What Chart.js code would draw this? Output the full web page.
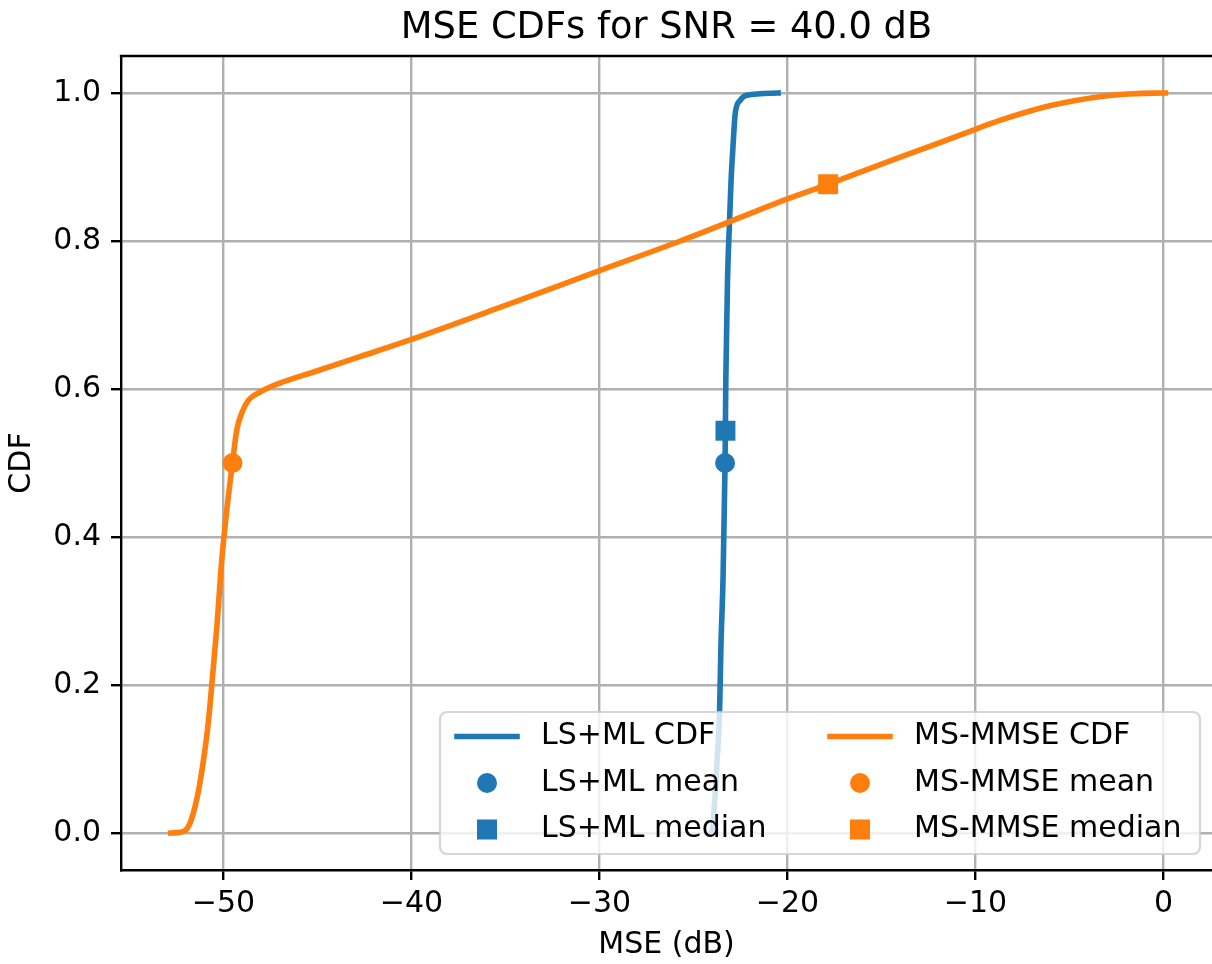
<!DOCTYPE html>
<html lang="en">
<head>
    <meta charset="UTF-8">
    <title>MSE CDFs for SNR = 40.0 dB</title>
    <script src="https://cdn.jsdelivr.net/npm/chart.js"></script>
    <style>
        * {
            box-sizing: border-box;
            margin: 0;
            padding: 0;
        }

        body {
            background-color: white;
        }

        canvas {
            display: block;
        }
    </style>
</head>
<body>

    <canvas id="grafico" width="1212" height="964"></canvas>

    <script>
        // LS+ML: CDF do MSE (dB)
        let lsmlX = [-24.1, -24.0, -23.75, -23.61, -23.54, -23.43, -23.32, -23.28, -23.25, -23.19, -23.08, -23.0, -22.9, -22.78, -22.52, -22.16, -20.5];
        let lsmlY = [0.0, 0.004, 0.095, 0.167, 0.252, 0.342, 0.5, 0.612, 0.657, 0.747, 0.828, 0.882, 0.927, 0.972, 0.990, 0.997, 1.0];
        let lsmlMean = [-23.32, 0.5];
        let lsmlMedian = [-23.30, 0.5436];

        // MS-MMSE: CDF do MSE (dB)
        let msX = [-52.8, -52.3, -52.0, -51.8, -51.6, -51.35, -51.06, -50.83, -50.62, -50.35, -50.09, -49.82, -49.52, -49.29, -49.02, -48.67, -48.05, -47.0, -45.2, -42.7, -40.0, -35.0, -30.0, -25.7, -22.0, -20.0, -17.8, -15.0, -12.0, -10.0, -8.7, -6.0, -3.4, -1.6, 0.1];
        let msY = [0.0, 0.001, 0.004, 0.012, 0.027, 0.054, 0.099, 0.144, 0.2, 0.279, 0.369, 0.437, 0.5, 0.545, 0.568, 0.585, 0.596, 0.608, 0.623, 0.644, 0.667, 0.713, 0.76, 0.8, 0.837, 0.857, 0.877, 0.904, 0.932, 0.951, 0.963, 0.983, 0.995, 0.999, 1.0];
        let msMean = [-49.52, 0.5];
        let msMedian = [-17.84, 0.8767];

        let xTicks = [-50, -40, -30, -20, -10, 0];
        let yTicks = [0.0, 0.2, 0.4, 0.6, 0.8, 1.0];

        let azul = '#1f77b4';
        let laranja = '#ff7f0e';
        let fonte = '"DejaVu Sans", sans-serif';

        function pontos(xs, ys) {
            return xs.map((x, i) => ({ x: x, y: ys[i] }));
        }

        function menos(v) {
            return String(v).replace('-', '\u2212');
        }

        let curva = (label, xs, ys, cor, ordem) => ({
            label: label,
            data: pontos(xs, ys),
            showLine: true,
            borderColor: cor,
            backgroundColor: cor,
            borderWidth: 5.6,
            borderCapStyle: 'square',
            borderJoinStyle: 'round',
            cubicInterpolationMode: 'monotone',
            pointRadius: 0,
            order: ordem
        });

        let marca = (label, p, cor, estilo, raio, ordem) => ({
            label: label,
            data: [{ x: p[0], y: p[1] }],
            pointStyle: estilo,
            pointRadius: raio,
            pointBackgroundColor: cor,
            pointBorderWidth: 0,
            order: ordem
        });

        // moldura de cima + legenda dentro do gráfico
        let moldura = {
            id: 'moldura',
            afterDraw(chart) {
                let c = chart.ctx;
                let a = chart.chartArea;
                c.save();
                c.strokeStyle = '#000';
                c.lineWidth = 2.4;
                c.beginPath();
                c.moveTo(a.left - 1.2, a.top);
                c.lineTo(a.right, a.top);
                c.stroke();

                // caixa da legenda
                c.beginPath();
                c.roundRect(440, 712, 760, 142, 7);
                c.fillStyle = 'rgba(255, 255, 255, 0.8)';
                c.fill();
                c.strokeStyle = 'rgba(204, 204, 204, 0.8)';
                c.lineWidth = 2.2;
                c.stroke();

                let linhas = [736.5, 783, 829.5];
                let colunas = [
                    { x: 457, cor: azul, nomes: ['LS+ML CDF', 'LS+ML mean', 'LS+ML median'] },
                    { x: 830, cor: laranja, nomes: ['MS-MMSE CDF', 'MS-MMSE mean', 'MS-MMSE median'] }
                ];
                c.font = '30px ' + fonte;
                c.textBaseline = 'middle';
                c.textAlign = 'left';
                colunas.forEach(col => {
                    let meio = col.x + 30;
                    c.strokeStyle = col.cor;
                    c.fillStyle = col.cor;
                    c.lineWidth = 5.6;
                    c.lineCap = 'square';
                    c.beginPath();
                    c.moveTo(col.x, linhas[0]);
                    c.lineTo(col.x + 60, linhas[0]);
                    c.stroke();
                    c.beginPath();
                    c.arc(meio, linhas[1], 10, 0, Math.PI * 2);
                    c.fill();
                    c.fillRect(meio - 10, linhas[2] - 10, 20, 20);
                    c.fillStyle = '#000';
                    col.nomes.forEach((t, i) => c.fillText(t, col.x + 84, linhas[i]));
                });
                c.restore();
            }
        };

        let ctx = document.getElementById('grafico').getContext('2d');

        let grafico = new Chart(ctx, {
            type: 'scatter',
            data: {
                datasets: [
                    curva('LS+ML CDF', lsmlX, lsmlY, azul, 6),
                    marca('LS+ML mean', lsmlMean, azul, 'circle', 10, 5),
                    marca('LS+ML median', lsmlMedian, azul, 'rect', 14.1, 4),
                    curva('MS-MMSE CDF', msX, msY, laranja, 3),
                    marca('MS-MMSE mean', msMean, laranja, 'circle', 10, 2),
                    marca('MS-MMSE median', msMedian, laranja, 'rect', 14.1, 1)
                ]
            },
            options: {
                responsive: false,
                animation: false,
                devicePixelRatio: 1,
                layout: { padding: 0, autoPadding: false },
                plugins: {
                    legend: { display: false },
                    tooltip: { enabled: false },
                    title: {
                        display: true,
                        fullSize: false,
                        text: 'MSE CDFs for SNR = 40.0 dB',
                        color: '#000',
                        font: { family: fonte, size: 36.8, weight: 'normal', lineHeight: 1.0 },
                        padding: { top: 10.5, bottom: 8.7 }
                    }
                },
                scales: {
                    x: {
                        type: 'linear',
                        min: -55.45,
                        max: 2.58,
                        afterBuildTicks: s => { s.ticks = xTicks.map(v => ({ value: v })); },
                        afterFit: s => { s.height = 94; },
                        ticks: {
                            callback: v => menos(v),
                            color: '#000',
                            font: { family: fonte, size: 30 },
                            padding: 6,
                            maxRotation: 0,
                            autoSkip: false
                        },
                        grid: { color: '#b0b0b0', lineWidth: 2.4, tickLength: 10, tickColor: '#000', tickWidth: 2.4 },
                        border: { color: '#000', width: 2.4 },
                        title: {
                            display: true,
                            text: 'MSE (dB)',
                            color: '#000',
                            font: { family: fonte, size: 30 },
                            padding: { top: 0, bottom: 1 }
                        }
                    },
                    y: {
                        type: 'linear',
                        min: -0.05,
                        max: 1.05,
                        afterBuildTicks: s => { s.ticks = yTicks.map(v => ({ value: v })); },
                        afterFit: s => { s.width = 121; },
                        ticks: {
                            callback: v => v.toFixed(1),
                            color: '#000',
                            font: { family: fonte, size: 30 },
                            padding: 10
                        },
                        grid: { color: '#b0b0b0', lineWidth: 2.4, tickLength: 10, tickColor: '#000', tickWidth: 2.4 },
                        border: { color: '#000', width: 2.4 },
                        title: {
                            display: true,
                            text: 'CDF',
                            color: '#000',
                            font: { family: fonte, size: 30 },
                            padding: { top: 4, bottom: 0 }
                        }
                    }
                }
            },
            plugins: [moldura]
        });
    </script>

</body>
</html>
